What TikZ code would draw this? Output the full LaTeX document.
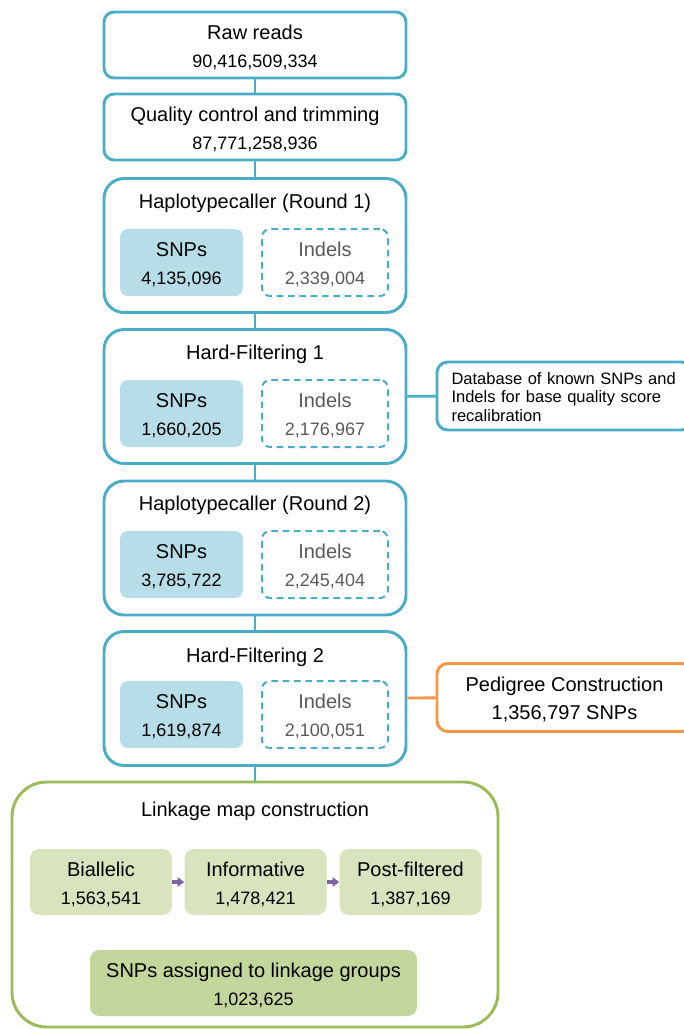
\documentclass[tikz,border=0pt]{standalone}
\usepackage{fontspec}
\setmainfont{Liberation Sans}
\usepackage{tikz}
\usetikzlibrary{arrows.meta,positioning}
\definecolor{stageblue}{RGB}{75,172,198}
\definecolor{snpfill}{RGB}{183,222,232}
\definecolor{indelgray}{RGB}{89,89,89}
\definecolor{linkgreen}{RGB}{155,187,89}
\definecolor{stepgreen}{RGB}{215,228,189}
\definecolor{groupgreen}{RGB}{195,214,155}
\definecolor{pedorange}{RGB}{247,150,70}
\definecolor{flowpurple}{RGB}{128,100,162}
\newcommand{\ttlfont}{\fontsize{15pt}{21pt}\selectfont}
\newcommand{\numfont}{\fontsize{13.5pt}{21pt}\selectfont}
\tikzset{
	>=Latex,
	smallbox/.style={
		draw=stageblue,
		line width=2.2pt,
		rounded corners=7.5pt,
		minimum width=226.5pt,
		minimum height=49.5pt
	},
	stagebox/.style={
		draw=stageblue,
		line width=2.2pt,
		rounded corners=15pt,
		minimum width=226.5pt,
		minimum height=100.5pt
	},
	snpbox/.style={
		fill=snpfill,
		rounded corners=6pt,
		minimum width=92.25pt,
		minimum height=50.25pt
	},
	indelbox/.style={
		draw=stageblue,
		line width=1.5pt,
		dash pattern=on 5pt off 3.5pt,
		rounded corners=6pt,
		minimum width=94.5pt,
		minimum height=50.25pt
	},
	sidebox/.style={
		line width=2.2pt,
		rounded corners=8pt,
		minimum width=191.25pt,
		minimum height=51pt
	},
	stepbox/.style={
		fill=stepgreen,
		rounded corners=7pt,
		minimum width=106.5pt,
		minimum height=49.5pt
	},
	label/.style={
		align=center,
		font=\ttlfont,
		yshift=-1.5pt
	},
	link/.style={
		stageblue,
		line width=2.2pt
	},
	flow/.style={
		-{Triangle[length=5pt,width=7pt]},
		flowpurple,
		line width=2.4pt
	}
}

\begin{document}
\begin{tikzpicture}[x=0.75pt,y=-0.75pt]
	\useasboundingbox (0,0) rectangle (684,1029);
	
	% Raw reads
	\node[smallbox] (raw) at (255,45) {};
	\node[label] (rawl) at (raw) {Raw reads\\\numfont 90,416,509,334};
	
	% Quality control
	\node[smallbox] (qc) at (255,127) {};
	\node[label] (qcl) at (qc) {Quality control and trimming\\\numfont 87,771,258,936};
	
	% Haplotypecaller, round 1
	\node[stagebox] (hc1) at (255,245.5) {};
	\node[label] (hc1t) at (255,201) {Haplotypecaller (Round 1)};
	\node[snpbox] (hc1s) at (181.5,262.5) {};
	\node[label] (hc1sl) at (hc1s) {SNPs\\\numfont 4,135,096};
	\node[indelbox] (hc1i) at (325,262.5) {};
	\node[label,text=indelgray] (hc1il) at (hc1i) {Indels\\\numfont 2,339,004};
	
	% Hard-Filtering 1
	\node[stagebox] (hf1) at (255,396.5) {};
	\node[label] (hf1t) at (255,352) {Hard-Filtering 1};
	\node[snpbox] (hf1s) at (181.5,413.5) {};
	\node[label] (hf1sl) at (hf1s) {SNPs\\\numfont 1,660,205};
	\node[indelbox] (hf1i) at (325,413.5) {};
	\node[label,text=indelgray] (hf1il) at (hf1i) {Indels\\\numfont 2,176,967};
	
	% Haplotypecaller, round 2
	\node[stagebox] (hc2) at (255,548) {};
	\node[label] (hc2t) at (255,503) {Haplotypecaller (Round 2)};
	\node[snpbox] (hc2s) at (181.5,564.5) {};
	\node[label] (hc2sl) at (hc2s) {SNPs\\\numfont 3,785,722};
	\node[indelbox] (hc2i) at (325,564.5) {};
	\node[label,text=indelgray] (hc2il) at (hc2i) {Indels\\\numfont 2,245,404};
	
	% Hard-Filtering 2
	\node[stagebox] (hf2) at (255,698.5) {};
	\node[label] (hf2t) at (255,655) {Hard-Filtering 2};
	\node[snpbox] (hf2s) at (181.5,714.5) {};
	\node[label] (hf2sl) at (hf2s) {SNPs\\\numfont 1,619,874};
	\node[indelbox] (hf2i) at (325,714.5) {};
	\node[label,text=indelgray] (hf2il) at (hf2i) {Indels\\\numfont 2,100,051};
	
	% Side boxes
	\node[sidebox,draw=stageblue] (db) at (564.5,396) {};
	\node[text width=169.5pt,align=left,font=\fontsize{12.4pt}{14pt}\selectfont] (dbl) at (564.5,397) {%
		\makebox[\linewidth][s]{Database of known SNPs and}\\
		\makebox[\linewidth][s]{Indels for base quality score}\\
		recalibration};
	\node[sidebox,draw=pedorange] (ped) at (564.5,697.5) {};
	\node[label] (pedl) at (ped) {Pedigree Construction\\1,356,797 SNPs};
	
	% Linkage map
	\node[draw=linkgreen,line width=2.2pt,rounded corners=26pt,minimum width=364.5pt,minimum height=183.75pt] (lm) at (255,904.5) {};
	\node[label] (lmt) at (255,809) {Linkage map construction};
	\node[stepbox] (bial) at (101,882) {};
	\node[label] (biall) at (bial) {Biallelic\\\numfont 1,563,541};
	\node[stepbox] (info) at (255.5,882) {};
	\node[label] (infol) at (info) {Informative\\\numfont 1,478,421};
	\node[stepbox] (post) at (410.5,882) {};
	\node[label] (postl) at (post) {Post-filtered\\\numfont 1,387,169};
	\node[stepbox,fill=groupgreen,minimum width=245.25pt] (lg) at (253.5,983) {};
	\node[label] (lgl) at (lg) {SNPs assigned to linkage groups\\\numfont 1,023,625};
	
	% Main path connections
	\draw[link] (raw) -- (qc);
	\draw[link] (qc) -- (hc1);
	\draw[link] (hc1) -- (hf1);
	\draw[link] (hf1) -- (hc2);
	\draw[link] (hc2) -- (hf2);
	\draw[link] (hf2) -- (lm);
	
	% Side connections
	\draw[link] (hf1) -- (db);
	\draw[link,pedorange] (hf2) -- (ped);
	
	% Filtering steps
	\draw[flow] (bial) -- (info);
	\draw[flow] (info) -- (post);
	
\end{tikzpicture}
\end{document}
